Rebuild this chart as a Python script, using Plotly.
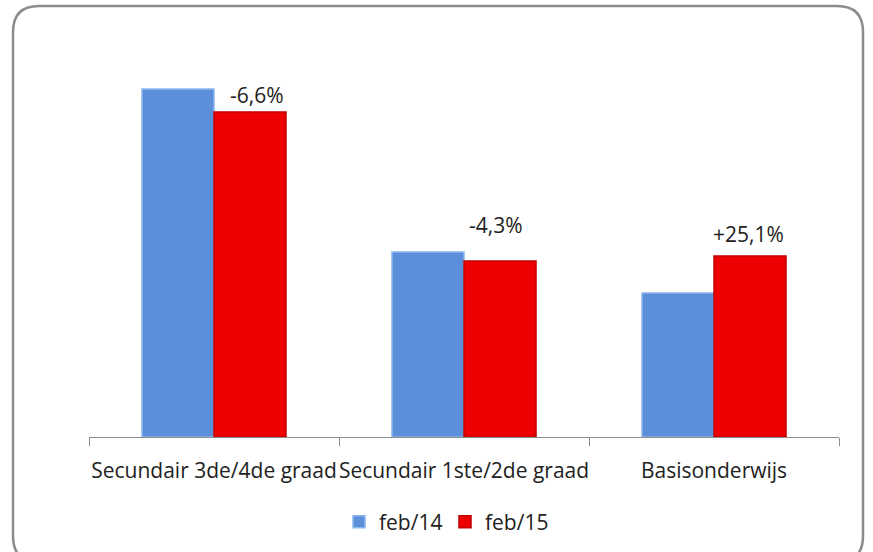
import plotly.graph_objects as go

categories = ["Secundair 3de/4de graad", "Secundair 1ste/2de graad", "Basisonderwijs"]
feb14 = [348, 185, 144]
feb15 = [325, 176, 181]
change_labels = ["-6,6%", "-4,3%", "+25,1%"]
label_lift = [17, 36, 22]
label_shift = [43, 32, 34]

W, H = 873, 552
L, R, T, B = 89, 34, 60, 115
pw, ph = W - L - R, H - T - B

def px(x):
    return (x - L) / pw

def py(y):
    return (H - B - y) / ph

FONT = "Open Sans"
FS = 21

fig = go.Figure()
fig.add_trace(go.Bar(name="feb/14", x=categories, y=feb14,
                     marker=dict(color="#5B8FD9", line=dict(color="#8DB6EC", width=1.5))))
fig.add_trace(go.Bar(name="feb/15", x=categories, y=feb15,
                     marker=dict(color="#EE0000", line=dict(color="#C00000", width=1.5))))

for c, v, t, lift, sh in zip(categories, feb15, change_labels, label_lift, label_shift):
    fig.add_annotation(x=c, y=v, text=t, showarrow=False, xshift=sh, yshift=lift,
                       yanchor="middle", font=dict(family=FONT, size=FS, color="#222"))

# rounded frame
x0, x1, y0, y1, r = 13, 863, 6, 562, 26
path = (f"M {px(x0+r)} {py(y0)} L {px(x1-r)} {py(y0)} Q {px(x1)} {py(y0)} {px(x1)} {py(y0+r)} "
        f"L {px(x1)} {py(y1-r)} Q {px(x1)} {py(y1)} {px(x1-r)} {py(y1)} "
        f"L {px(x0+r)} {py(y1)} Q {px(x0)} {py(y1)} {px(x0)} {py(y1-r)} "
        f"L {px(x0)} {py(y0+r)} Q {px(x0)} {py(y0)} {px(x0+r)} {py(y0)} Z")
fig.add_shape(type="path", path=path, xref="paper", yref="paper",
              line=dict(color="#8C8C8C", width=2.5), layer="below")

fig.update_layout(
    width=W, height=H,
    margin=dict(l=L, r=R, t=T, b=B, autoexpand=False),
    paper_bgcolor="white", plot_bgcolor="white",
    barmode="group", bargap=0.424, bargroupgap=0,
    font=dict(family=FONT, size=FS, color="#222"),
    showlegend=True,
    legend=dict(orientation="h", x=px(339), xanchor="left", y=py(522), yanchor="middle",
                font=dict(family=FONT, size=FS, color="#222"), entrywidth=61,
                traceorder="normal"),
)
fig.update_xaxes(showline=True, linecolor="#8C8C8C", linewidth=1.2,
                 ticks="outside", ticklen=8, tickcolor="#8C8C8C", tickson="boundaries",
                 ticklabelstandoff=15, showgrid=False, zeroline=False, tickangle=0,
                 automargin=False,
                 tickfont=dict(family=FONT, size=FS, color="#222"))
fig.update_yaxes(range=[0, ph], visible=False, showgrid=False, zeroline=False,
                 automargin=False)

fig.write_html("out.html", config={"displayModeBar": False},
               post_script="document.body.style.margin='0';document.body.style.overflow='hidden';")
